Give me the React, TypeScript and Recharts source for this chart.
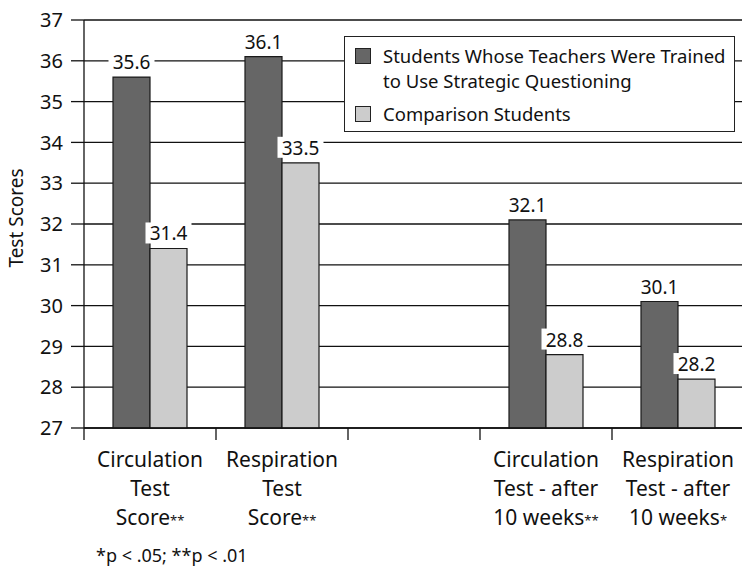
import { BarChart, Bar, XAxis, YAxis, CartesianGrid, LabelList } from "recharts";

const categories = [
    ["Circulation", "Test", "Score**"],
    ["Respiration", "Test", "Score**"],
    [],
    ["Circulation", "Test - after", "10 weeks**"],
    ["Respiration", "Test - after", "10 weeks*"]
];

const trainedScores = [35.6, 36.1, null, 32.1, 30.1];
const comparisonScores = [31.4, 33.5, null, 28.8, 28.2];

const yTicks = [27, 28, 29, 30, 31, 32, 33, 34, 35, 36, 37];

const seriesNames = [
    ["Students Whose Teachers Were Trained", "to Use Strategic Questioning"],
    ["Comparison Students"]
];

const COLORS = ["#666666", "#cccccc"];

const data = categories.map((lines, i) => ({
    name: lines.join(" "),
    lines,
    trained: trainedScores[i],
    comparison: comparisonScores[i]
}));

const FONT = "'Noto Sans', sans-serif";
const BAND = 132;

function ValueLabel(props: any) {
    const { x, y, width, value } = props;
    if (value === null || value === undefined) return null;
    const cx = x + width / 2;
    return (
        <g>
            <rect x={cx - 23} y={y - 26} width={46} height={21} fill="white" />
            <text x={cx} y={y - 8} textAnchor="middle" fontSize={19} fontFamily={FONT} fill="#111">
                {value.toFixed(1)}
            </text>
        </g>
    );
}

function CategoryTick(props: any) {
    const { x, y, index } = props;
    const lines: string[] = data[index].lines;
    return (
        <g>
            <line x1={x - BAND / 2} y1={y} x2={x - BAND / 2} y2={y + 12} stroke="#111" strokeWidth={1.3} />
            {lines.map((line, i) => {
                const m = line.match(/^(.*?)(\*+)$/);
                return (
                    <text key={i} x={x} y={y + 39 + i * 29} textAnchor="middle" fontSize={21} fontFamily={FONT} fill="#111">
                        {m ? (
                            <>
                                {m[1]}
                                <tspan fontSize={13}>{m[2]}</tspan>
                            </>
                        ) : line}
                    </text>
                );
            })}
        </g>
    );
}

function LegendBox() {
    return (
        <div
            style={{
                position: "absolute",
                left: 344,
                top: 36,
                width: 391,
                height: 96,
                border: "1.3px solid #222",
                background: "white",
                fontFamily: FONT,
                fontSize: 18.5,
                color: "#111",
                lineHeight: "25px",
                boxSizing: "border-box",
                padding: "6px 0 0 10px"
            }}
        >
            {seriesNames.map((lines, i) => (
                <div key={i} style={{ display: "flex", alignItems: "flex-start", marginBottom: 8 }}>
                    <div
                        style={{
                            width: 14,
                            height: 14,
                            marginTop: 5,
                            marginRight: 12,
                            background: COLORS[i],
                            border: "1.3px solid #222",
                            flexShrink: 0
                        }}
                    />
                    <div>
                        {lines.map((l, j) => (
                            <div key={j}>{l}</div>
                        ))}
                    </div>
                </div>
            ))}
        </div>
    );
}

export default function App() {
    return (
        <div style={{ position: "absolute", left: 0, top: 0, width: 742, height: 570, overflow: "hidden", background: "white" }}>
            <BarChart
                width={744}
                height={570}
                data={data}
                margin={{ top: 20, right: 0, left: 0, bottom: 0 }}
                barGap={0}
                barSize={37}
            >
                <CartesianGrid vertical={false} stroke="#111" strokeWidth={1.3} />
                <XAxis
                    dataKey="name"
                    height={142}
                    tickLine={false}
                    tickSize={0}
                    tickMargin={0}
                    interval={0}
                    axisLine={{ stroke: "#111", strokeWidth: 1.3 }}
                    tick={<CategoryTick />}
                />
                <YAxis
                    width={84}
                    domain={[27, 37]}
                    ticks={yTicks}
                    interval={0}
                    tickSize={13}
                    tickMargin={8}
                    axisLine={{ stroke: "#111", strokeWidth: 1.3 }}
                    tickLine={{ stroke: "#111", strokeWidth: 1.3 }}
                    tick={{ fontSize: 20, fontFamily: FONT, fill: "#111" }}
                />
                <Bar dataKey="trained" fill={COLORS[0]} stroke="#1a1a1a" strokeWidth={1.2} isAnimationActive={false}>
                    <LabelList dataKey="trained" content={<ValueLabel />} />
                </Bar>
                <Bar dataKey="comparison" fill={COLORS[1]} stroke="#1a1a1a" strokeWidth={1.2} isAnimationActive={false}>
                    <LabelList dataKey="comparison" content={<ValueLabel />} />
                </Bar>
                <text
                    x={18}
                    y={218}
                    transform="rotate(-90 18 218)"
                    textAnchor="middle"
                    dominantBaseline="middle"
                    fontSize={19}
                    fontFamily={FONT}
                    fill="#111"
                >
                    Test Scores
                </text>
            </BarChart>
            <LegendBox />
            <div style={{ position: "absolute", left: 96, top: 543, fontFamily: FONT, fontSize: 18, lineHeight: "25px", color: "#111" }}>
                *p &lt; .05; **p &lt; .01
            </div>
        </div>
    );
}
